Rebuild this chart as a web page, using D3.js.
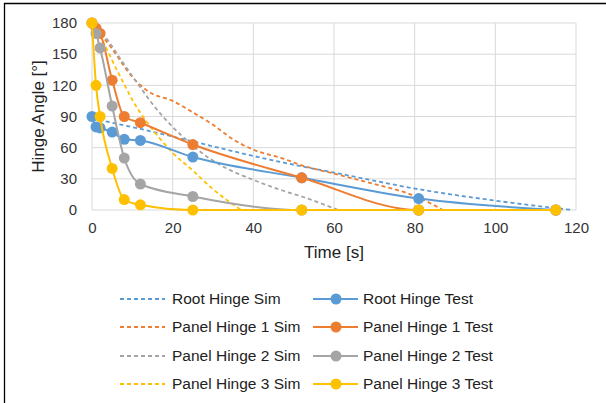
<!DOCTYPE html>
<meta charset="utf-8">
<style>
body { margin: 0; background: #fff; }
text { font-family: "Liberation Sans", Arial, sans-serif; fill: #222; }
.grid line { stroke: #d9d9d9; stroke-width: 1px; }
.axis text { fill: #333; }
</style>
<body>
<svg id="chart" width="606" height="403"></svg>
<script src="https://d3js.org/d3.v7.min.js"></script>
<script>

// test timestamps shared by all measured series
const testTime = [0, 1, 2, 5, 8, 12, 25, 52, 81, 115]
const rootTest = [90, 80, 79, 75, 68, 67, 51, 31, 11, 0]
const panel1Test = [180, 175, 170, 125, 90, 84, 63, 31, 0, 0]
const panel2Test = [180, 170, 156, 100, 50, 25, 13, 0, 0, 0]
const panel3Test = [180, 120, 90, 40, 10, 5, 0, 0, 0, 0]

// simulation curves [time, angle]
const rootSim = [[0, 88], [5, 84], [12, 78], [25, 66], [40, 52], [52, 42], [60, 36], [81, 20], [100, 9], [119, 0]]
const panel1Sim = [[0, 180], [5, 155], [10, 128], [14, 114], [20, 105], [25, 94], [30, 82], [35, 68], [40, 58], [47, 50], [52, 43], [60, 35], [70, 25], [81, 12], [87, 0]]
const panel2Sim = [[0, 180], [3, 168], [8, 140], [12, 118], [15, 102], [20, 80], [25, 62], [29, 50], [35, 37], [40, 29], [47, 19], [52, 13], [61, 0]]
const panel3Sim = [[0, 180], [3, 160], [6, 136], [8, 121], [10, 106], [13, 88], [17, 68], [20, 55], [25, 38], [30, 20], [34, 8], [37, 0]]

const xTicks = [0, 20, 40, 60, 80, 100, 120]
const yTicks = [0, 30, 60, 90, 120, 150, 180]

const series = [
  {name: "Root Hinge", color: "#5b9bd5", sim: rootSim, test: rootTest},
  {name: "Panel Hinge 1", color: "#ed7d31", sim: panel1Sim, test: panel1Test},
  {name: "Panel Hinge 2", color: "#a5a5a5", sim: panel2Sim, test: panel2Test},
  {name: "Panel Hinge 3", color: "#ffc000", sim: panel3Sim, test: panel3Test}
]

const svg = d3.select("#chart")

const x = d3.scaleLinear().domain([0, 120]).range([92, 576])
const y = d3.scaleLinear().domain([0, 180]).range([210, 23])

// gridlines
svg.append("g").attr("class", "grid")
  .selectAll("line").data(xTicks).join("line")
  .attr("x1", d => x(d)).attr("x2", d => x(d))
  .attr("y1", y(0)).attr("y2", y(180))
svg.append("g").attr("class", "grid")
  .selectAll("line").data(yTicks).join("line")
  .attr("x1", x(0)).attr("x2", x(120))
  .attr("y1", d => y(d)).attr("y2", d => y(d))

// axes (labels only)
const xAxis = svg.append("g").attr("class", "axis")
  .attr("transform", `translate(0,${y(0)})`)
  .call(d3.axisBottom(x).tickValues(xTicks).tickSize(0).tickPadding(12))
xAxis.select(".domain").remove()
xAxis.selectAll("text").attr("font-size", 15).attr("font-family", null)

const yAxis = svg.append("g").attr("class", "axis")
  .attr("transform", `translate(${x(0)},0)`)
  .call(d3.axisLeft(y).tickValues(yTicks).tickSize(0).tickPadding(15))
yAxis.select(".domain").remove()
yAxis.selectAll("text").attr("font-size", 15).attr("font-family", null)

svg.append("text").attr("x", 334).attr("y", 258)
  .attr("text-anchor", "middle").attr("font-size", 17).text("Time [s]")
svg.append("text")
  .attr("transform", `translate(44,${(y(0) + y(180)) / 2}) rotate(-90)`)
  .attr("text-anchor", "middle").attr("font-size", 17).text("Hinge Angle [°]")

const line = d3.line().x(d => x(d[0])).y(d => y(d[1])).curve(d3.curveMonotoneX)

// simulation (dashed)
series.forEach(s => {
  svg.append("path").datum(s.sim)
    .attr("d", line)
    .attr("fill", "none").attr("stroke", s.color)
    .attr("stroke-width", 1.8).attr("stroke-dasharray", "4,3")
})

// tests (solid with markers)
series.forEach(s => {
  const pts = testTime.map((t, i) => [t, s.test[i]])
  svg.append("path").datum(pts)
    .attr("d", line)
    .attr("fill", "none").attr("stroke", s.color).attr("stroke-width", 2)
  svg.append("g").selectAll("circle").data(pts).join("circle")
    .attr("cx", d => x(d[0])).attr("cy", d => y(d[1])).attr("r", 5.5)
    .attr("fill", s.color)
})

// legend
const rowY = [299, 327, 356, 384]
const lg = svg.append("g")
series.forEach((s, i) => {
  const g = lg.append("g").attr("transform", `translate(0,${rowY[i]})`)
  g.append("line").attr("x1", 120).attr("x2", 165)
    .attr("stroke", s.color).attr("stroke-width", 1.8).attr("stroke-dasharray", "4,3")
  g.append("text").attr("x", 172).attr("dy", "0.35em").attr("font-size", 15.5)
    .text(s.name + " Sim")
  g.append("line").attr("x1", 313).attr("x2", 358)
    .attr("stroke", s.color).attr("stroke-width", 2)
  g.append("circle").attr("cx", 336).attr("r", 5.5).attr("fill", s.color)
  g.append("text").attr("x", 363).attr("dy", "0.35em").attr("font-size", 15.5)
    .text(s.name + " Test")
})

// frame
svg.append("path").attr("d", "M4.5,403V3.5H606")
  .attr("fill", "none").attr("stroke", "#000").attr("stroke-width", 1.3)

</script>
